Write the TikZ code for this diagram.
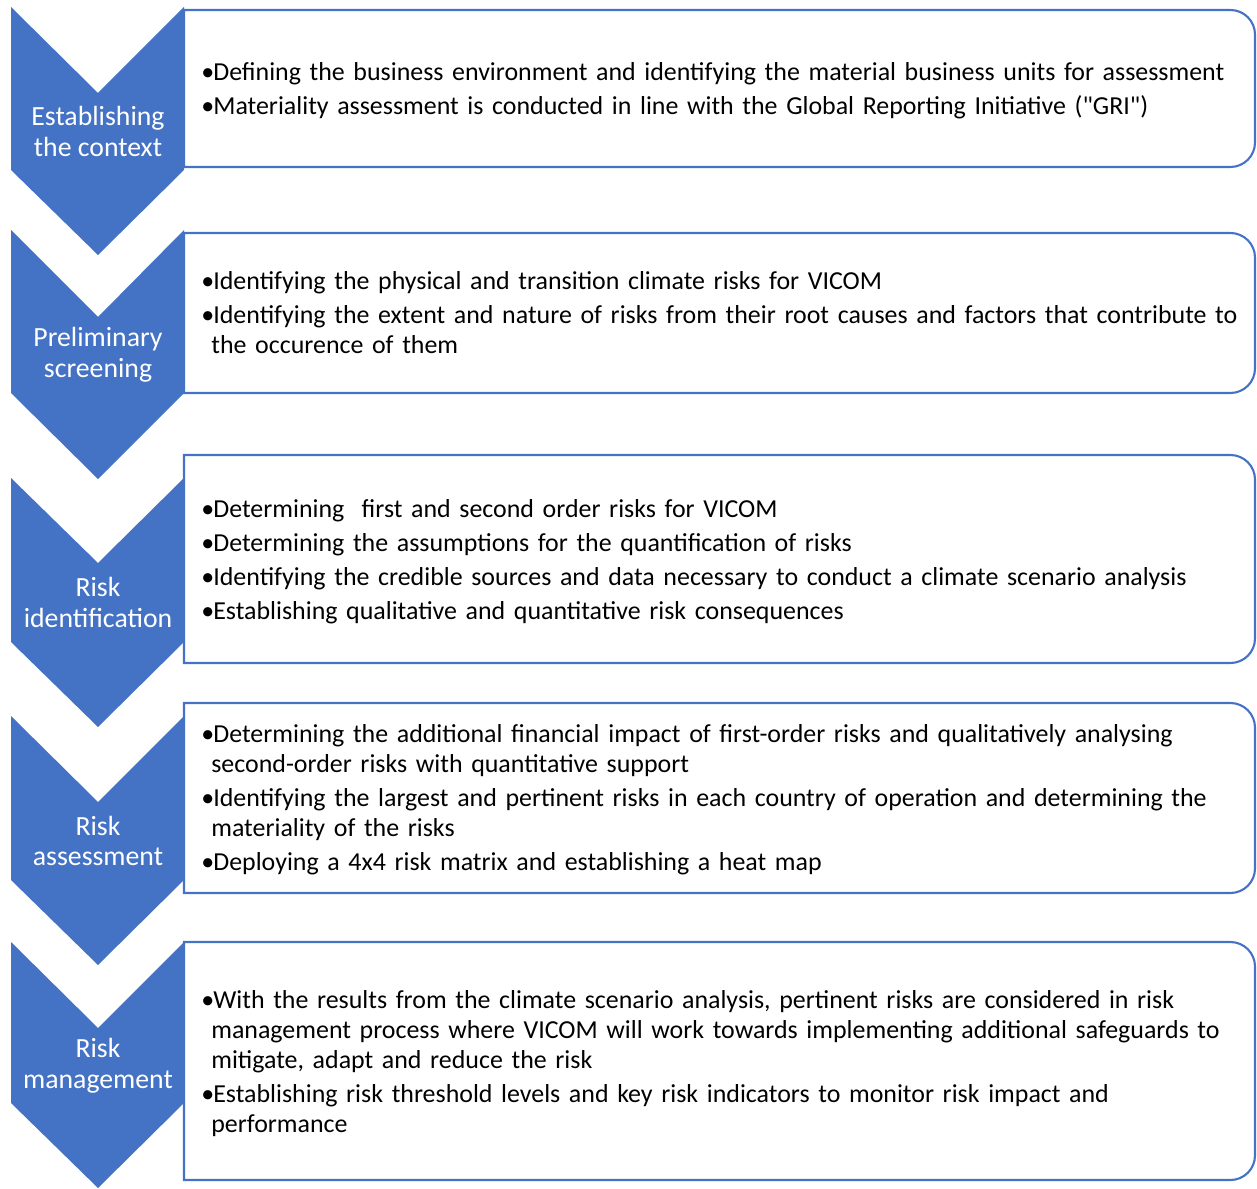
\documentclass[tikz,border=0pt]{standalone}
\usepackage{fontspec}
\setmainfont{Carlito}
\definecolor{ShapeClr}{RGB}{68,114,196}
\newcommand{\stagefont}{\fontsize{15.8}{17.4}\selectfont}
\newcommand{\pointfont}{\fontsize{14.75}{17}\selectfont}
\newcommand{\bul}{\makebox[0.24cm][l]{•}}
\newcommand{\ind}{\hspace*{0.2cm}}

\begin{document}
\begin{tikzpicture}[x=0.02cm,y=-0.02cm,
  chevron/.style={fill=ShapeClr},
  frame/.style={draw=ShapeClr,line width=1.2pt},
  stage/.style={text=white,align=center,font=\stagefont},
  points/.style={anchor=west,inner sep=0pt,text width=21.5cm,align=left,font=\pointfont}]
\useasboundingbox (0,0) rectangle (1257,1189);

\fill[chevron] (11,7) -- (98,93) -- (184,7) -- (184,170) -- (98,255) -- (11,170) -- cycle;
\fill[chevron] (11,230) -- (98,317) -- (184,230) -- (184,393) -- (98,479) -- (11,393) -- cycle;
\fill[chevron] (11,478) -- (98,563) -- (184,478) -- (184,642) -- (98,727) -- (11,642) -- cycle;
\fill[chevron] (11,716) -- (98,802) -- (184,716) -- (184,880) -- (98,965) -- (11,880) -- cycle;
\fill[chevron] (11,942) -- (98,1028) -- (184,942) -- (184,1103) -- (98,1188) -- (11,1103) -- cycle;

\draw[frame] (184,167) -- (184,10) [rounded corners=14pt] -- (1255,10) -- (1255,167) [sharp corners] -- cycle;
\draw[frame] (184,393) -- (184,233) [rounded corners=14pt] -- (1255,233) -- (1255,393) [sharp corners] -- cycle;
\draw[frame] (184,663) -- (184,455) [rounded corners=14pt] -- (1255,455) -- (1255,663) [sharp corners] -- cycle;
\draw[frame] (184,893) -- (184,703) [rounded corners=14pt] -- (1255,703) -- (1255,893) [sharp corners] -- cycle;
\draw[frame] (184,1180) -- (184,942) [rounded corners=14pt] -- (1255,942) -- (1255,1180) [sharp corners] -- cycle;

\node[stage] (ctx) at (98,131.5) {Establishing\\the context};
\node[stage] (scr) at (98,355) {Preliminary\\screening};
\node[stage] (idf) at (98,602.5) {Risk\\identification};
\node[stage] (asm) at (98,841) {Risk\\assessment};
\node[stage] (mgt) at (98,1065.5) {Risk\\management};

\node[points] (ctxpts) at (201,91) {\bul Defining the business environment and identifying the material business units for assessment\\[2.3pt]
  \bul Materiality assessment is conducted in line with the Global Reporting Initiative (\textquotedbl GRI\textquotedbl)};
\node[points] (scrpts) at (201,312.5) {\bul Identifying the physical and transition climate risks for VICOM\\[2.3pt]
  \bul Identifying the extent and nature of risks from their root causes and factors that contribute to\\
  \ind the occurence of them};
\node[points] (idfpts) at (201,561.5) {\bul Determining\ \ first and second order risks for VICOM\\[2.3pt]
  \bul Determining the assumptions for the quantification of risks\\[2.3pt]
  \bul Identifying the credible sources and data necessary to conduct a climate scenario analysis\\[2.3pt]
  \bul Establishing qualitative and quantitative risk consequences};
\node[points] (asmpts) at (201,800) {\bul Determining the additional financial impact of first-order risks and qualitatively analysing\\
  \ind second-order risks with quantitative support\\[2.3pt]
  \bul Identifying the largest and pertinent risks in each country of operation and determining the\\
  \ind materiality of the risks\\[2.3pt]
  \bul Deploying a 4x4 risk matrix and establishing a heat map};
\node[points] (mgtpts) at (201,1063.5) {\bul With the results from the climate scenario analysis, pertinent risks are considered in risk\\
  \ind management process where VICOM will work towards implementing additional safeguards to\\
  \ind mitigate, adapt and reduce the risk\\[2.3pt]
  \bul Establishing risk threshold levels and key risk indicators to monitor risk impact and\\
  \ind performance};

\end{tikzpicture}
\end{document}
